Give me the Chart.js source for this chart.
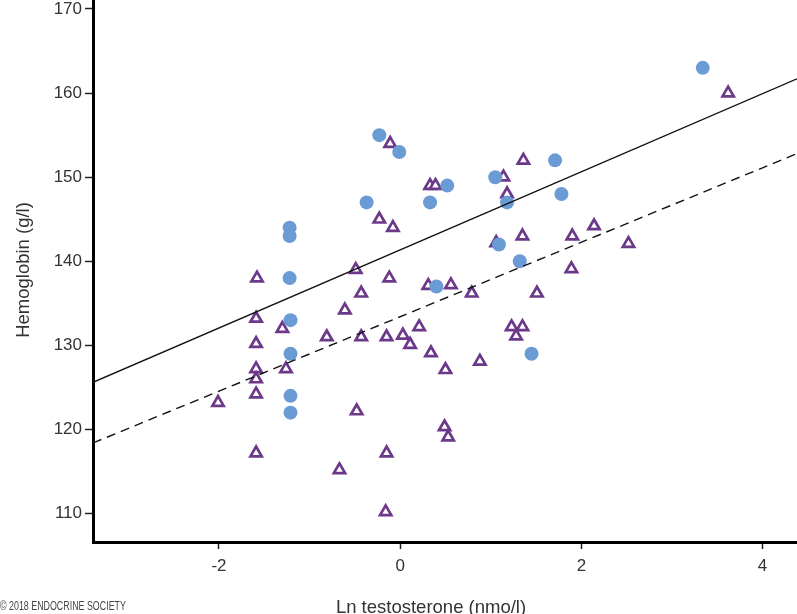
<!DOCTYPE html>
<html>
<head>
<meta charset="utf-8">
<script src="https://cdn.jsdelivr.net/npm/chart.js@4.4.1/dist/chart.umd.min.js"></script>
<style>
  html, body { margin: 0; padding: 0; background: #fff; }
  #wrap { width: 797px; height: 614px; }
</style>
</head>
<body>
<div id="wrap"><canvas id="hbChart" width="797" height="614"></canvas></div>
<script>
// filled circles
const circleX = [3.34, -0.23, -0.01, -0.37, -1.22, -1.22, -1.22, -1.21, -1.21, -1.21, -1.21,
  0.52, 0.33, 1.71, 1.05, 1.18, 1.78, 1.09, 1.32, 0.40, 1.45];
const circleY = [163, 155, 153, 147, 144, 143, 138, 133, 129, 124, 122,
  149, 147, 152, 150, 147, 148, 142, 140, 137, 129];

// open triangles
const triX = [-0.11, -0.23, -0.08, -0.49, -1.58, -0.12, -0.43, -0.61, -1.59, -1.30,
  -0.81, -0.43, -0.15, -1.59, -1.59, -1.26, -1.59, -1.59, -2.01, -0.48,
  -1.59, -0.15, -0.67, -0.16, 0.03, 0.11, 0.21, 0.34, 0.50, 0.88,
  1.23, 1.35, 1.28, 0.49, 0.53, 0.33, 0.39, 1.36, 1.14, 1.18,
  1.35, 1.06, 1.90, 1.89, 0.31, 0.56, 0.79, 1.51, 2.14, 2.52, 3.62];
const triY = [154, 145, 144, 139, 138, 138, 136.2, 134.2, 133.2, 132,
  131, 131, 131, 130.2, 127.2, 127.2, 126, 124.2, 123.2, 122.2,
  117.2, 117.2, 115.2, 110.2, 131.2, 130.1, 132.2, 129.1, 127.1, 128.1,
  132.2, 132.2, 131.1, 120.3, 119.1, 149, 149, 152, 150, 148,
  143, 142.2, 143, 139.1, 137.1, 137.2, 136.2, 136.2, 144.2, 142.1, 160];

// regression lines, ends at the axis limits
const fitX = [-3.39, 4.38];
const fitSolidY = [125.6, 161.7];
const fitDashedY = [118.4, 152.8];

const xTicks = [-2, 0, 2, 4];
const yTicks = [110, 120, 130, 140, 150, 160, 170];

const xTitle = 'Ln testosterone (nmo/l)';
const yTitle = 'Hemoglobin (g/l)';
const note = '\u00A9 2018 ENDOCRINE SOCIETY';

function pairs(xs, ys) {
  return xs.map((x, i) => ({ x: x, y: ys[i] }));
}

// no extra room for edge labels, the plot must touch the canvas edges
function noPadding(scale) {
  scale.paddingLeft = 0;
  scale.paddingRight = 0;
  scale.paddingTop = 0;
  scale.paddingBottom = 0;
}

const textPlugin = {
  id: 'textPlugin',
  afterDraw(chart) {
    const ctx = chart.ctx;
    ctx.save();
    ctx.fillStyle = '#333';
    ctx.font = '18.5px "Liberation Sans", Arial, sans-serif';
    ctx.textAlign = 'center';
    ctx.textBaseline = 'alphabetic';
    ctx.fillText(xTitle, 431, 613);
    ctx.translate(29, 270);
    ctx.rotate(-Math.PI / 2);
    ctx.fillText(yTitle, 0, 0);
    ctx.restore();

    // condensed small print
    ctx.save();
    ctx.fillStyle = '#444';
    ctx.font = '12.5px "Liberation Sans", Arial, sans-serif';
    ctx.textAlign = 'left';
    ctx.textBaseline = 'alphabetic';
    ctx.scale(0.71, 1);
    ctx.fillText(note, 0, 610);
    ctx.restore();
  }
};

const config = {
  type: 'scatter',
  data: {
    datasets: [
      {
        label: 'circles',
        data: pairs(circleX, circleY),
        pointStyle: 'circle',
        pointRadius: 7,
        pointHoverRadius: 7,
        backgroundColor: 'rgb(106,155,213)',
        borderColor: 'rgb(106,155,213)',
        borderWidth: 0,
        order: 1
      },
      {
        label: 'triangles',
        data: pairs(triX, triY),
        pointStyle: 'triangle',
        pointRadius: 6.5,
        pointHoverRadius: 6.5,
        backgroundColor: '#fff',
        borderColor: 'rgb(108,56,138)',
        borderWidth: 2.7,
        order: 2
      },
      {
        type: 'line',
        label: 'fit solid',
        data: pairs(fitX, fitSolidY),
        borderColor: '#111',
        borderWidth: 1.4,
        pointRadius: 0,
        fill: false,
        order: 0
      },
      {
        type: 'line',
        label: 'fit dashed',
        data: pairs(fitX, fitDashedY),
        borderColor: '#111',
        borderWidth: 1.4,
        borderDash: [9, 6],
        pointRadius: 0,
        fill: false,
        order: 0
      }
    ]
  },
  options: {
    responsive: false,
    animation: false,
    events: [],
    layout: { padding: 0, autoPadding: false },
    plugins: {
      legend: { display: false },
      tooltip: { enabled: false }
    },
    scales: {
      x: {
        type: 'linear',
        min: fitX[0],
        max: fitX[1],
        afterBuildTicks: (scale) => { scale.ticks = xTicks.map(v => ({ value: v })); },
        afterFit: (scale) => { scale.height = 72; noPadding(scale); },
        border: { display: true, color: '#000', width: 3 },
        grid: { drawOnChartArea: false, drawTicks: true, tickLength: 7, tickColor: '#222', tickWidth: 1.5 },
        ticks: { color: '#333', padding: 7, font: { family: '"Liberation Sans", Arial, sans-serif', size: 17 } }
      },
      y: {
        type: 'linear',
        min: 106.62,
        max: 171.07,
        afterBuildTicks: (scale) => { scale.ticks = yTicks.map(v => ({ value: v })); },
        afterFit: (scale) => { scale.width = 93; noPadding(scale); },
        border: { display: true, color: '#000', width: 3 },
        grid: { drawOnChartArea: false, drawTicks: true, tickLength: 8, tickColor: '#222', tickWidth: 1.5 },
        ticks: { color: '#333', padding: 3, font: { family: '"Liberation Sans", Arial, sans-serif', size: 17 } }
      }
    }
  },
  plugins: [textPlugin]
};

const hbChart = new Chart(document.getElementById('hbChart'), config);
</script>
</body>
</html>
